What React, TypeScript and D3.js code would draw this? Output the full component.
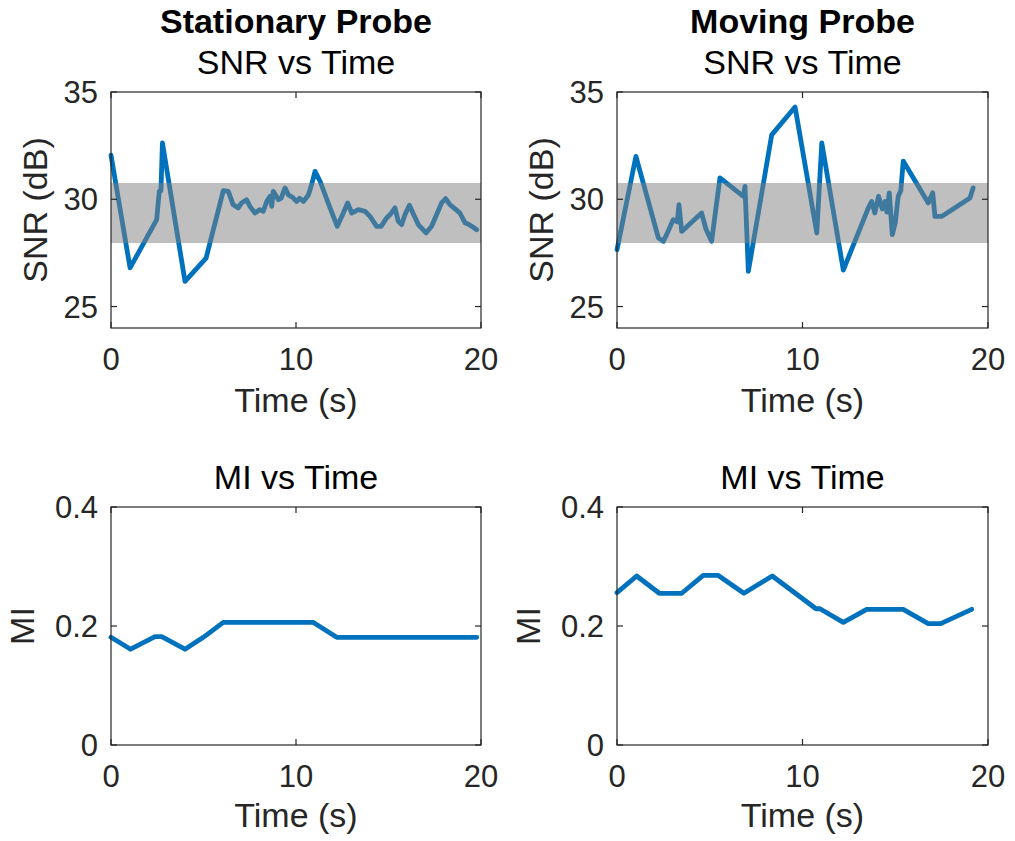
import React from "react";
import * as d3 from "d3";

// ---------- Data ----------
const stationarySnrTime = [0, 1.03, 2.47, 2.61, 2.7, 2.78, 4.0, 5.14, 6.07, 6.34, 6.6, 6.88, 7.06, 7.33, 7.51, 7.78, 8.05, 8.23, 8.42, 8.6, 8.69, 8.77, 9.05, 9.2, 9.41, 9.59, 9.8, 10.04, 10.2, 10.4, 10.67, 10.85, 11.03, 11.3, 11.84, 12.23, 12.56, 12.79, 13.01, 13.37, 13.73, 14.0, 14.36, 14.6, 14.9, 15.1, 15.35, 15.53, 15.71, 15.9, 16.13, 16.35, 16.61, 17.03, 17.33, 17.6, 17.87, 18.09, 18.32, 18.6, 18.86, 19.14, 19.3, 19.5, 19.77];
const stationarySnr = [32.06, 26.8, 29.05, 30.37, 30.4, 32.63, 26.17, 27.26, 30.4, 30.37, 29.75, 29.6, 29.83, 29.98, 29.67, 29.36, 29.52, 29.44, 29.9, 30.14, 29.67, 30.37, 29.98, 30.05, 30.53, 30.2, 30.1, 29.9, 30.05, 29.9, 30.2, 30.7, 31.3, 30.84, 29.6, 28.74, 29.36, 29.83, 29.36, 29.52, 29.44, 29.2, 28.74, 28.74, 29.13, 29.3, 29.6, 28.97, 28.82, 29.3, 29.72, 29.3, 28.82, 28.43, 28.74, 29.28, 29.83, 30.03, 29.75, 29.55, 29.36, 28.9, 28.85, 28.74, 28.58];

const movingSnrTime = [0, 1.02, 2.23, 2.5, 2.7, 3.03, 3.25, 3.34, 3.49, 4.56, 4.8, 5.1, 5.55, 6.81, 6.9, 7.08, 8.34, 9.6, 10.77, 11.04, 12.2, 13.55, 13.73, 13.9, 14.1, 14.3, 14.45, 14.55, 14.68, 14.84, 15.0, 15.16, 15.3, 15.43, 16.78, 17.02, 17.14, 17.5, 19.03, 19.2];
const movingSnr = [27.65, 32.0, 28.2, 28.04, 28.4, 29.05, 28.95, 29.75, 28.5, 29.36, 28.6, 28.04, 31.0, 30.14, 30.6, 26.64, 33.0, 34.3, 28.43, 32.63, 26.7, 29.6, 29.9, 29.36, 30.14, 29.55, 29.9, 29.4, 30.3, 28.35, 28.9, 30.14, 30.4, 31.78, 29.83, 30.3, 29.2, 29.2, 30.06, 30.53];

const snrBand = [27.96, 30.76];

const stationaryMiTime = [0, 1.06, 2.38, 2.74, 4.0, 4.99, 6.07, 10.94, 12.2, 19.77];
const stationaryMi = [0.181, 0.161, 0.182, 0.182, 0.161, 0.181, 0.206, 0.206, 0.181, 0.181];

const movingMiTime = [0, 1.06, 2.28, 3.49, 4.65, 5.46, 6.84, 8.37, 10.73, 10.94, 12.2, 13.46, 15.43, 16.78, 17.45, 19.12];
const movingMi = [0.256, 0.284, 0.255, 0.255, 0.285, 0.285, 0.255, 0.284, 0.229, 0.229, 0.206, 0.228, 0.228, 0.204, 0.204, 0.228];

const xTicks = [0, 10, 20];
const snrTicks = [25, 30, 35];
const miTicks = [0, 0.2, 0.4];
const columnTitles = ["Stationary Probe", "Moving Probe"];

// ---------- Layout ----------
const W = 1015;
const H = 841;
const FONT = "'Liberation Sans', Arial, Helvetica, sans-serif";
const AXIS = "#262626";
const BLUE = "#0072BD";

type PanelProps = {
  left: number;
  right: number;
  top: number;
  bottom: number;
  xs: number[];
  ys: number[];
  yDomain: [number, number];
  yTicks: number[];
  yFmt: (v: number) => string;
  title: string;
  ylabel: string;
  ylabelX: number;
  xlabelOffset: number;
  band?: number[];
};

function Panel(p: PanelProps) {
  const x = d3.scaleLinear().domain([0, 20]).range([p.left, p.right]);
  const y = d3.scaleLinear().domain(p.yDomain).range([p.bottom, p.top]);
  const line = d3
    .line<number>()
    .x((_, i) => x(p.xs[i]))
    .y((d) => y(d));
  const tl = 6;
  const cx = (p.left + p.right) / 2;
  const cy = (p.top + p.bottom) / 2;
  return (
    <g>
      <path
        d={line(p.ys) || ""}
        fill="none"
        stroke={BLUE}
        strokeWidth={4.8}
        strokeLinejoin="round"
        strokeLinecap="round"
      />
      {p.band && (
        <rect
          x={x(0)}
          width={x(20) - x(0)}
          y={y(p.band[1])}
          height={y(p.band[0]) - y(p.band[1])}
          fill="#808080"
          fillOpacity={0.5}
        />
      )}
      <rect
        x={p.left}
        y={p.top}
        width={p.right - p.left}
        height={p.bottom - p.top}
        fill="none"
        stroke={AXIS}
        strokeWidth={1.2}
      />
      {xTicks.map((t) => (
        <g key={"x" + t}>
          <line x1={x(t)} x2={x(t)} y1={p.bottom} y2={p.bottom - tl} stroke={AXIS} strokeWidth={1.2} />
          <line x1={x(t)} x2={x(t)} y1={p.top} y2={p.top + tl} stroke={AXIS} strokeWidth={1.2} />
          <text
            x={x(t)}
            y={p.bottom + 42}
            textAnchor="middle"
            fontSize={31}
            fontFamily={FONT}
            fill="#262626"
          >
            {t}
          </text>
        </g>
      ))}
      {p.yTicks.map((t) => (
        <g key={"y" + t}>
          <line x1={p.left} x2={p.left + tl} y1={y(t)} y2={y(t)} stroke={AXIS} strokeWidth={1.2} />
          <line x1={p.right} x2={p.right - tl} y1={y(t)} y2={y(t)} stroke={AXIS} strokeWidth={1.2} />
          <text
            x={p.left - 13}
            y={y(t) + 11}
            textAnchor="end"
            fontSize={31}
            fontFamily={FONT}
            fill="#262626"
          >
            {p.yFmt(t)}
          </text>
        </g>
      ))}
      <text
        x={cx}
        y={p.bottom + p.xlabelOffset}
        textAnchor="middle"
        fontSize={34}
        fontFamily={FONT}
        fill="#262626"
      >
        Time (s)
      </text>
      <text
        transform={`translate(${p.ylabelX},${cy}) rotate(-90)`}
        textAnchor="middle"
        fontSize={34}
        fontFamily={FONT}
        fill="#262626"
      >
        {p.ylabel}
      </text>
      <text
        x={cx}
        y={p.top - 18}
        textAnchor="middle"
        fontSize={34}
        fontFamily={FONT}
        fill="#000"
      >
        {p.title}
      </text>
    </g>
  );
}

export default function App() {
  const cols = [
    { left: 111, right: 481 },
    { left: 617, right: 988 },
  ];
  const snrFmt = (v: number) => String(v);
  const miFmt = (v: number) => (v === 0 ? "0" : v.toFixed(1));
  return (
    <svg
      width={W}
      height={H}
      style={{ position: "absolute", left: 0, top: 0, background: "#fff" }}
    >
      {columnTitles.map((t, i) => (
        <text
          key={t}
          x={(cols[i].left + cols[i].right) / 2}
          y={33}
          textAnchor="middle"
          fontSize={34}
          fontWeight="bold"
          fontFamily={FONT}
          fill="#000"
        >
          {t}
        </text>
      ))}
      <Panel
        {...cols[0]}
        top={92}
        bottom={328}
        xs={stationarySnrTime}
        ys={stationarySnr}
        yDomain={[24, 35]}
        yTicks={snrTicks}
        yFmt={snrFmt}
        title="SNR vs Time"
        ylabel="SNR (dB)"
        ylabelX={47}
        xlabelOffset={84}
        band={snrBand}
      />
      <Panel
        {...cols[1]}
        top={92}
        bottom={328}
        xs={movingSnrTime}
        ys={movingSnr}
        yDomain={[24, 35]}
        yTicks={snrTicks}
        yFmt={snrFmt}
        title="SNR vs Time"
        ylabel="SNR (dB)"
        ylabelX={553}
        xlabelOffset={84}
        band={snrBand}
      />
      <Panel
        {...cols[0]}
        top={507}
        bottom={745}
        xs={stationaryMiTime}
        ys={stationaryMi}
        yDomain={[0, 0.4]}
        yTicks={miTicks}
        yFmt={miFmt}
        title="MI vs Time"
        ylabel="MI"
        ylabelX={34}
        xlabelOffset={82}
      />
      <Panel
        {...cols[1]}
        top={507}
        bottom={745}
        xs={movingMiTime}
        ys={movingMi}
        yDomain={[0, 0.4]}
        yTicks={miTicks}
        yFmt={miFmt}
        title="MI vs Time"
        ylabel="MI"
        ylabelX={540}
        xlabelOffset={82}
      />
    </svg>
  );
}
